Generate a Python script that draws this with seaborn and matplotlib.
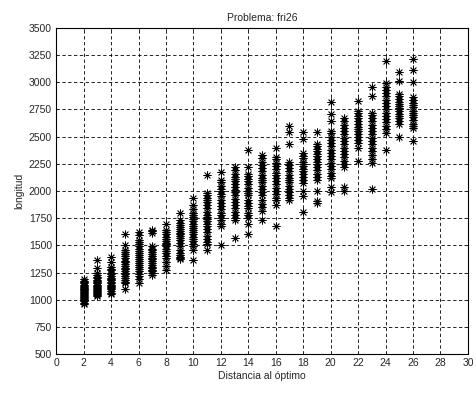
import pandas as pd
import matplotlib
matplotlib.use("Agg")
import matplotlib.pyplot as plt
import seaborn as sns

d2 = [1190, 1175, 1160, 1150, 1140, 1130, 1120, 1110, 1100, 1095, 1085, 1080, 1070, 1060, 1050, 1045, 1035, 1025, 1015, 1005, 995, 985, 970, 960]
d3 = [1365, 1290, 1250, 1230, 1210, 1200, 1185, 1170, 1160, 1150, 1140, 1130, 1120, 1110, 1100, 1090, 1080, 1070, 1060, 1050, 1040, 1030]
d4 = [1390, 1345, 1300, 1285, 1270, 1250, 1235, 1220, 1200, 1190, 1180, 1165, 1150, 1140, 1130, 1120, 1110, 1095, 1080, 1065, 1050]
d5 = [1600, 1500, 1460, 1440, 1420, 1400, 1380, 1360, 1345, 1330, 1310, 1290, 1280, 1265, 1250, 1235, 1220, 1200, 1180, 1160, 1150, 1100]
d6 = [1625, 1595, 1550, 1530, 1510, 1490, 1470, 1450, 1430, 1410, 1390, 1370, 1355, 1340, 1320, 1300, 1280, 1260, 1240, 1215, 1195, 1155]
d7 = [1645, 1630, 1615, 1490, 1470, 1455, 1440, 1420, 1400, 1385, 1370, 1355, 1340, 1320, 1305, 1290, 1275, 1260, 1245, 1230]
d8 = [1700, 1640, 1620, 1600, 1580, 1560, 1540, 1525, 1510, 1490, 1470, 1450, 1430, 1400, 1380, 1350, 1310, 1275]
d9 = [1795, 1735, 1710, 1690, 1670, 1650, 1630, 1615, 1600, 1590, 1570, 1550, 1520, 1490, 1460, 1430, 1410, 1395, 1380, 1370]
d10 = [1935, 1875, 1830, 1800, 1780, 1760, 1740, 1720, 1700, 1680, 1660, 1640, 1620, 1600, 1580, 1560, 1540, 1510, 1490, 1460, 1365]
d11 = [2145, 1980, 1960, 1940, 1920, 1900, 1870, 1840, 1810, 1780, 1760, 1740, 1720, 1700, 1680, 1650, 1620, 1590, 1560, 1530, 1510, 1460]
d12 = [2175, 2100, 2080, 2050, 2020, 2000, 1975, 1950, 1920, 1890, 1860, 1830, 1800, 1775, 1750, 1730, 1700, 1675, 1500]
d13 = [2220, 2190, 2160, 2130, 2110, 2090, 2060, 2040, 2010, 1990, 1960, 1930, 1900, 1870, 1840, 1810, 1780, 1750, 1730, 1565]
d14 = [2380, 2220, 2160, 2140, 2110, 2090, 2060, 2030, 2000, 1980, 1960, 1920, 1890, 1860, 1840, 1800, 1780, 1750, 1700, 1600]
d15 = [2330, 2300, 2270, 2240, 2210, 2180, 2150, 2120, 2100, 2080, 2050, 2020, 1990, 1960, 1920, 1880, 1850, 1820, 1730]
d16 = [2400, 2310, 2290, 2260, 2230, 2200, 2170, 2150, 2120, 2090, 2060, 2030, 2000, 1970, 1940, 1920, 1870, 1680]
d17 = [2600, 2540, 2435, 2270, 2240, 2210, 2180, 2150, 2120, 2100, 2080, 2050, 2020, 1990, 1960, 1940, 1920]
d18 = [2540, 2480, 2345, 2320, 2300, 2270, 2250, 2230, 2200, 2180, 2160, 2130, 2100, 2070, 2000, 1950, 1810]
d19 = [2540, 2435, 2410, 2390, 2370, 2340, 2320, 2290, 2270, 2250, 2220, 2190, 2160, 2130, 2100, 2000, 1905, 1890]
d20 = [2815, 2705, 2640, 2555, 2530, 2500, 2470, 2440, 2410, 2380, 2350, 2320, 2290, 2260, 2230, 2200, 2170, 2140, 2115, 2035, 1995]
d21 = [2675, 2640, 2610, 2580, 2550, 2520, 2490, 2460, 2430, 2400, 2370, 2340, 2310, 2280, 2250, 2220, 2040, 2000]
d22 = [2830, 2740, 2720, 2690, 2670, 2640, 2620, 2590, 2570, 2550, 2520, 2500, 2470, 2440, 2400, 2280]
d23 = [2960, 2870, 2720, 2700, 2670, 2640, 2610, 2580, 2550, 2520, 2490, 2460, 2430, 2400, 2370, 2330, 2290, 2260, 2020]
d24 = [3200, 2990, 2960, 2930, 2900, 2870, 2840, 2810, 2780, 2750, 2720, 2690, 2660, 2630, 2600, 2570, 2530, 2380]
d25 = [3090, 3015, 2895, 2870, 2850, 2820, 2800, 2780, 2760, 2740, 2710, 2690, 2670, 2640, 2620, 2500]
d26 = [3215, 3110, 3000, 2860, 2840, 2810, 2790, 2770, 2740, 2720, 2700, 2680, 2650, 2620, 2600, 2575, 2460]

columns = [d2, d3, d4, d5, d6, d7, d8, d9, d10, d11, d12, d13, d14,
           d15, d16, d17, d18, d19, d20, d21, d22, d23, d24, d25, d26]
distances = list(range(2, 27))

x_ticks = list(range(0, 31, 2))
y_ticks = list(range(500, 3501, 250))

rows = []
for dist, vals in zip(distances, columns):
    for v in vals:
        rows.append({"distancia": dist, "longitud": v})
df = pd.DataFrame(rows)

sns.set_style("white")
plt.rcParams['font.family'] = ['Liberation Sans', 'DejaVu Sans']

fig = plt.figure(figsize=(4.76, 3.93), dpi=100)
ax = fig.add_axes([0.118, 0.099, 0.865, 0.830])

# asterisco tipo MATLAB
sns.scatterplot(data=df, x="distancia", y="longitud", ax=ax,
                marker=(8, 2, 0), s=28, color="black", linewidth=0.6,
                edgecolor="black")

ax.set_xlim(0, 30)
ax.set_ylim(500, 3500)
ax.set_xticks(x_ticks)
ax.set_yticks(y_ticks)
ax.tick_params(direction="in", length=3, labelsize=7.5, top=True, right=True,
               width=0.6, pad=3)
ax.grid(True, color="black", linestyle=(0, (4, 3)), linewidth=0.6)
for sp in ax.spines.values():
    sp.set_color("black")
    sp.set_linewidth(0.8)

ax.set_title("Problema: fri26", fontsize=7.5, pad=5)
ax.set_xlabel("Distancia al óptimo", fontsize=7.5, labelpad=2)
ax.set_ylabel("longitud", fontsize=7.5, labelpad=3)

plt.savefig("out.png", dpi=100)
